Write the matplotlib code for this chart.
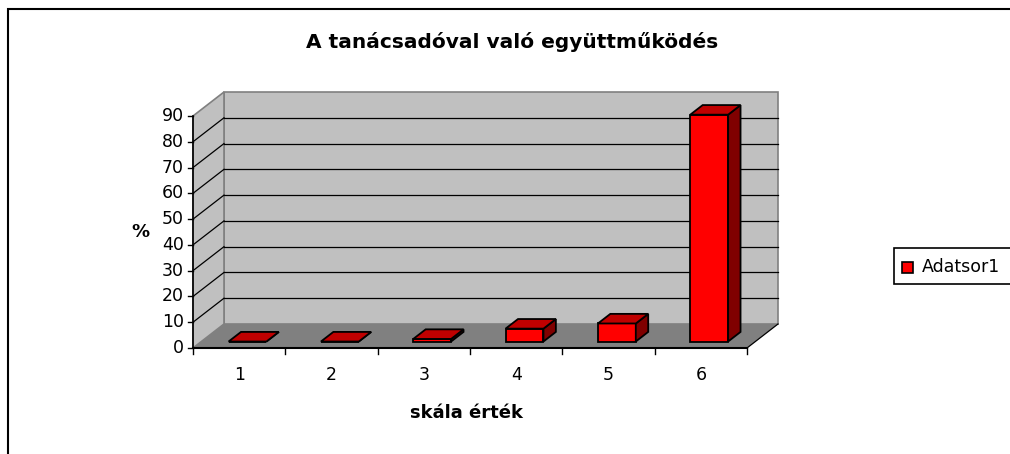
import matplotlib
matplotlib.use("Agg")
import matplotlib.pyplot as plt
from matplotlib.patches import Polygon, Rectangle

plt.rcParams['font.family'] = ['DejaVu Sans']

categories = ['1', '2', '3', '4', '5', '6']
values = [0, 0, 1, 5, 7, 88]
y_ticks = [0, 10, 20, 30, 40, 50, 60, 70, 80, 90]
title = "A tanácsadóval való együttműködés"
xlabel = "skála érték"
ylabel = "%"
series_name = "Adatsor1"

W, H = 1010, 454
fig = plt.figure(figsize=(W / 100, H / 100), dpi=100)
fig.patch.set_facecolor('white')

# outer chart border (only top/left visible)
fig.add_artist(Rectangle((8 / W, -0.1), 1.2, 1 - 9 / H + 0.1, transform=fig.transFigure,
                         fill=False, edgecolor='black', linewidth=1.5))

left, right = 193 / W, 747 / W
bottom, top = (H - 348) / H, (H - 116) / H
ax = fig.add_axes([left, bottom, right - left, top - bottom])
ax.set_xlim(0.5, len(categories) + 0.5)
ax.set_ylim(0, 90)
ax.axis('off')

px_per_cat = (747 - 193) / len(categories)
px_per_val = (348 - 116) / 90
DX = 31 / px_per_cat
DY = 24 / px_per_val

x0, x1 = 0.5, len(categories) + 0.5
ymax = 90

wall = '#C0C0C0'
floor = '#808080'
edge = '#808080'

# floor
ax.add_patch(Polygon([(x0, 0), (x1, 0), (x1 + DX, DY), (x0 + DX, DY)], closed=True,
                     facecolor=floor, edgecolor='none', clip_on=False, zorder=1))
# back wall
ax.add_patch(Polygon([(x0 + DX, DY), (x1 + DX, DY), (x1 + DX, ymax + DY), (x0 + DX, ymax + DY)],
                     closed=True, facecolor=wall, edgecolor=edge, linewidth=1.2,
                     clip_on=False, zorder=1))
# side wall
ax.add_patch(Polygon([(x0, 0), (x0, ymax), (x0 + DX, ymax + DY), (x0 + DX, DY)], closed=True,
                     facecolor=wall, edgecolor=edge, linewidth=1.2, clip_on=False, zorder=1))

# gridlines
for v in y_ticks[1:-1]:
    ax.plot([x0 + DX, x1 + DX], [v + DY, v + DY], color='black', lw=0.9, clip_on=False, zorder=2)
    ax.plot([x0, x0 + DX], [v, v + DY], color='black', lw=0.9, clip_on=False, zorder=2)

# axes lines
ax.plot([x0, x0], [0, ymax], color='black', lw=1.2, clip_on=False, zorder=3)
ax.plot([x0, x1], [0, 0], color='black', lw=1.5, clip_on=False, zorder=3)
ax.plot([x1, x1 + DX], [0, DY], color='black', lw=0.9, clip_on=False, zorder=3)

# y ticks
tick_len_x = 5 / px_per_cat
for v in y_ticks:
    ax.plot([x0 - tick_len_x, x0], [v, v], color='black', lw=1.0, clip_on=False, zorder=3)
    ax.text(x0 - 9 / px_per_cat, v, str(v), ha='right', va='center', fontsize=12.5)

# x ticks
tick_len_y = 6 / px_per_val
for i in range(len(categories) + 1):
    xb = x0 + i
    ax.plot([xb, xb], [0, -tick_len_y], color='black', lw=1.0, clip_on=False, zorder=3)
for i, c in enumerate(categories):
    ax.text(i + 1, -27 / px_per_val, c, ha='center', va='center', fontsize=12.5)

# bars
f0, f1 = 0.27, 0.67
bw = 0.41
for i, v in enumerate(values):
    cx = i + 1 + f0 * DX
    bx0, bx1 = cx - bw / 2, cx + bw / 2
    by0 = f0 * DY
    by1 = by0 + v
    ddx, ddy = (f1 - f0) * DX, (f1 - f0) * DY
    # front
    ax.add_patch(Polygon([(bx0, by0), (bx1, by0), (bx1, by1), (bx0, by1)], closed=True,
                         facecolor='#FF0000', edgecolor='black', lw=1.3, clip_on=False,
                         zorder=5 + i, joinstyle='miter'))
    # side
    ax.add_patch(Polygon([(bx1, by0), (bx1 + ddx, by0 + ddy), (bx1 + ddx, by1 + ddy), (bx1, by1)],
                         closed=True, facecolor='#800000', edgecolor='black', lw=1.3,
                         clip_on=False, zorder=5 + i, joinstyle='miter'))
    # top
    ax.add_patch(Polygon([(bx0, by1), (bx1, by1), (bx1 + ddx, by1 + ddy), (bx0 + ddx, by1 + ddy)],
                         closed=True, facecolor='#C00000', edgecolor='black', lw=1.3,
                         clip_on=False, zorder=5 + i, joinstyle='miter'))

# texts
fig.text(512 / W, 1 - 42 / H, title, ha='center', va='center', fontsize=14.5, fontweight='bold')
fig.text(140 / W, 1 - 232 / H, ylabel, ha='center', va='center', fontsize=13, fontweight='bold')
fig.text(466 / W, 1 - 413 / H, xlabel, ha='center', va='center', fontsize=13, fontweight='bold')

# legend
fig.add_artist(Rectangle((894 / W, 1 - 284 / H), 0.2, 36 / H, transform=fig.transFigure,
                         facecolor='white', edgecolor='black', lw=1.2))
fig.add_artist(Rectangle((902 / W, 1 - 273 / H), 11 / W, 11 / H, transform=fig.transFigure,
                         facecolor='#FF0000', edgecolor='black', lw=1.2))
fig.text(922 / W, 1 - 267 / H, series_name, ha='left', va='center', fontsize=12.5)

fig.savefig('out.png', dpi=100)
